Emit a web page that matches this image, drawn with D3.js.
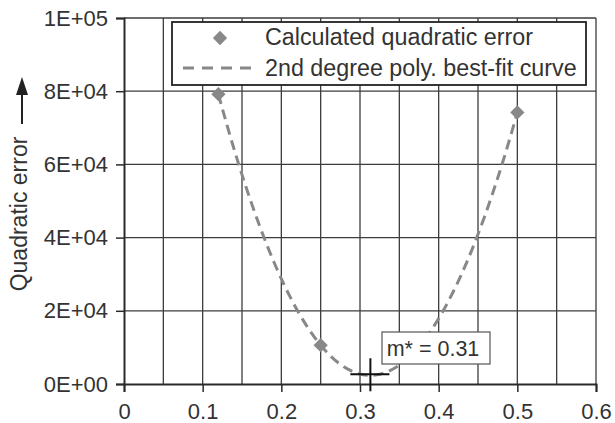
<!DOCTYPE html>
<html>
<head>
<meta charset="utf-8">
<script src="https://cdn.jsdelivr.net/npm/d3@7"></script>
<style>
  body { margin: 0; background: #fff; }
  text { font-family: "Liberation Sans", Arial, sans-serif; fill: #333; }
</style>
</head>
<body>
<svg id="chart"></svg>
<script>
// data
const mValues = [0.12, 0.25, 0.5];
const errorValues = [79200, 10600, 74200];
const xTicks = [0, 0.1, 0.2, 0.3, 0.4, 0.5, 0.6];
const xGrid = [0.05, 0.1, 0.15, 0.2, 0.25, 0.3, 0.35, 0.4, 0.45, 0.5, 0.55, 0.6];
const yTicks = [0, 20000, 40000, 60000, 80000, 100000];
const yTickLabels = ["0E+00", "2E+04", "4E+04", "6E+04", "8E+04", "1E+05"];
const legendLabels = ["Calculated quadratic error", "2nd degree poly. best-fit curve"];
const optimumLabel = "m* = 0.31";

const width = 615, height = 423;
const margin = { top: 18, right: 19, bottom: 39, left: 124 };

const svg = d3.select("#chart").attr("width", width).attr("height", height);

const x = d3.scaleLinear().domain([0, 0.6]).range([margin.left, width - margin.right]);
const y = d3.scaleLinear().domain([0, 100000]).range([height - margin.bottom, margin.top]);

// least squares 2nd degree fit of the points (normal equations)
function polyFit2(xs, ys) {
  const n = xs.length;
  let s = [0, 0, 0, 0, 0], t = [0, 0, 0];
  for (let i = 0; i < n; i++) {
    for (let k = 0; k < 5; k++) s[k] += Math.pow(xs[i], k);
    for (let k = 0; k < 3; k++) t[k] += ys[i] * Math.pow(xs[i], k);
  }
  const A = [[s[0], s[1], s[2], t[0]], [s[1], s[2], s[3], t[1]], [s[2], s[3], s[4], t[2]]];
  for (let i = 0; i < 3; i++) {
    for (let j = i + 1; j < 3; j++) {
      const f = A[j][i] / A[i][i];
      for (let k = i; k < 4; k++) A[j][k] -= f * A[i][k];
    }
  }
  const c = [0, 0, 0];
  for (let i = 2; i >= 0; i--) {
    let v = A[i][3];
    for (let k = i + 1; k < 3; k++) v -= A[i][k] * c[k];
    c[i] = v / A[i][i];
  }
  return c; // c0 + c1 m + c2 m^2
}
const coef = polyFit2(mValues, errorValues);
const fitAt = (m) => coef[0] + coef[1] * m + coef[2] * m * m;
const mStar = -coef[1] / (2 * coef[2]);

// grid
const gridColor = "#3c3c3c";
svg.append("g").selectAll("line").data(xGrid).enter().append("line")
  .attr("x1", (d) => x(d)).attr("x2", (d) => x(d))
  .attr("y1", y(0)).attr("y2", y(100000))
  .attr("stroke", gridColor).attr("stroke-width", 1.3);
svg.append("g").selectAll("line").data(yTicks.slice(1)).enter().append("line")
  .attr("x1", x(0)).attr("x2", x(0.6))
  .attr("y1", (d) => y(d)).attr("y2", (d) => y(d))
  .attr("stroke", gridColor).attr("stroke-width", 1.3);

// axes
const xAxis = svg.append("g")
  .attr("transform", `translate(0,${y(0)})`)
  .call(d3.axisBottom(x).tickValues(xTicks).tickFormat(d3.format("")).tickSize(8).tickPadding(9));
const yAxis = svg.append("g")
  .attr("transform", `translate(${x(0)},0)`)
  .call(d3.axisLeft(y).tickValues(yTicks).tickFormat((d, i) => yTickLabels[i]).tickSize(8).tickPadding(8));
[xAxis, yAxis].forEach((g) => {
  g.select(".domain").attr("stroke", "#2a2a2a").attr("stroke-width", 2);
  g.selectAll(".tick line").attr("stroke", "#2a2a2a").attr("stroke-width", 1.5);
  g.selectAll(".tick text").style("font-size", "22px").attr("fill", "#333")
    .style("font-family", "'Liberation Sans', Arial, sans-serif");
});
xAxis.selectAll(".tick text").attr("dy", "0.8em");

// y axis title with arrow
svg.append("text")
  .attr("transform", "translate(27,214) rotate(-90)")
  .attr("text-anchor", "middle")
  .style("font-size", "23px")
  .text("Quadratic error");
svg.append("line").attr("x1", 22).attr("x2", 22).attr("y1", 124).attr("y2", 92)
  .attr("stroke", "#222").attr("stroke-width", 2);
svg.append("path").attr("d", "M22,77 L28,95 L16,95 Z").attr("fill", "#222");

// fitted curve
const curveData = d3.range(0, 101).map((i) => {
  const m = mValues[0] + (mValues[mValues.length - 1] - mValues[0]) * i / 100;
  return [m, fitAt(m)];
});
svg.append("path")
  .datum(curveData)
  .attr("d", d3.line().x((d) => x(d[0])).y((d) => y(d[1])))
  .attr("fill", "none")
  .attr("stroke", "#888")
  .attr("stroke-width", 3)
  .attr("stroke-dasharray", "10,6");

// points
const diamond = d3.symbol().type(d3.symbolDiamond2).size(130);
svg.append("g").selectAll("path").data(mValues).enter().append("path")
  .attr("d", diamond)
  .attr("transform", (d, i) => `translate(${x(d)},${y(errorValues[i])})`)
  .attr("fill", "#888");

// optimum cross
const cx = x(mStar), cy = y(fitAt(mStar)) - 1;
svg.append("line").attr("x1", cx - 20).attr("x2", cx + 19).attr("y1", cy).attr("y2", cy)
  .attr("stroke", "#111").attr("stroke-width", 2);
svg.append("line").attr("x1", cx).attr("x2", cx).attr("y1", cy - 16).attr("y2", cy + 17)
  .attr("stroke", "#111").attr("stroke-width", 2);

// optimum label box
svg.append("rect").attr("x", 382).attr("y", 332).attr("width", 108).attr("height", 32)
  .attr("fill", "#fff").attr("stroke", "#555").attr("stroke-width", 1.2);
svg.append("text").attr("x", 433).attr("y", 356).attr("text-anchor", "middle")
  .style("font-size", "21.5px").text(optimumLabel);

// legend
const legend = svg.append("g");
legend.append("rect").attr("x", 172).attr("y", 22).attr("width", 414).attr("height", 63)
  .attr("fill", "#fff").attr("stroke", "#222").attr("stroke-width", 1.8);
legend.append("path").attr("d", diamond).attr("transform", "translate(220,38)").attr("fill", "#888");
legend.append("line").attr("x1", 183).attr("x2", 252).attr("y1", 68).attr("y2", 68)
  .attr("stroke", "#888").attr("stroke-width", 3).attr("stroke-dasharray", "11,8");
legend.selectAll("text.lg").data(legendLabels).enter().append("text")
  .attr("class", "lg")
  .attr("x", 265).attr("y", (d, i) => 45 + i * 31)
  .style("font-size", "23.3px")
  .text((d) => d);
</script>
</body>
</html>
